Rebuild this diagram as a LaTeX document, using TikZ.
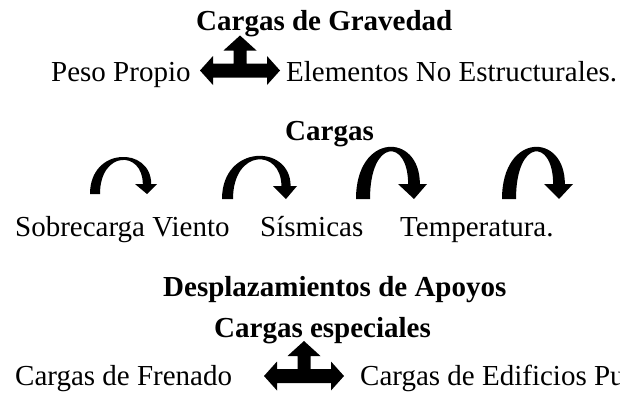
\documentclass[tikz,border=0pt]{standalone}
\usepackage{fontspec}
\setmainfont{Liberation Serif}
\newcommand\curvarr[9]{%
 \pgfmathsetmacro\co{(#4-0.125*(#3+#5))/0.75}%
 \pgfmathsetmacro\ci{(#4+#9-0.125*(#3+#5))/0.75}%
 \pgfmathsetmacro\sw{0.42*#2}%
 \fill (#1,#3) .. controls (#1,\co) and ({#8+\sw},\co) .. ({#8+\sw},#5) -- (#7,#5) -- (#8,#3) -- (#6,#5) -- ({#8-\sw},#5) .. controls ({#8-\sw},\ci) and ({#1+#2},\ci) .. ({#1+#2},#3) -- cycle;}
\newcommand\tarr[2]{%
 \fill ({#1-40},#2) -- ({#1-27},{#2-14.5}) -- ({#1-27},{#2-7}) -- ({#1-6.5},{#2-7}) -- ({#1-6.5},{#2-20}) -- ({#1-16.5},{#2-20}) -- (#1,{#2-35}) -- ({#1+16.5},{#2-20}) -- ({#1+6.5},{#2-20}) -- ({#1+6.5},{#2-7}) -- ({#1+27},{#2-7}) -- ({#1+27},{#2-14.5}) -- ({#1+40},#2) -- ({#1+27},{#2+14.5}) -- ({#1+27},{#2+7}) -- ({#1-27},{#2+7}) -- ({#1-27},{#2+14.5}) -- cycle;}
\begin{document}
\begin{tikzpicture}[x=1pt,y=-1pt,
  txt/.style={anchor=base west,inner sep=0pt,font=\fontsize{29}{34}\selectfont},
  hd/.style={txt,font=\fontsize{29}{34}\selectfont\bfseries}]
\useasboundingbox (0,0) rectangle (620,394);
\clip (0,0) rectangle (620,394);
\node[hd] (t1) at (196,30) {Cargas de Gravedad};
\node[txt] (peso) at (51,81) {Peso Propio};
\node[txt] (elem) at (286,81) {Elementos No Estructurales.};
\tarr{240}{70.5}
\node[hd] (t2) at (285,140) {Cargas};
\curvarr{90}{10}{194}{157}{184}{135}{157}{147}{3}
\curvarr{222}{11}{199}{156}{186}{273}{297}{286}{3.5}
\curvarr{356}{14}{199}{147}{184}{398}{427}{414}{4.5}
\curvarr{502}{14}{199}{147}{184}{544}{573}{559}{4.5}
\node[txt] (sob) at (15,236) {Sobrecarga Viento};
\node[txt] (sis) at (260,236) {Sísmicas};
\node[txt] (tem) at (400,236) {Temperatura.};
\node[hd] (t3) at (163,296) {Desplazamientos de Apoyos};
\node[hd] (t4) at (214,337) {Cargas especiales};
\node[txt] (fren) at (15,385) {Cargas de Frenado};
\tarr{304}{376}
\node[txt] (edif) at (360,385) {Cargas de Edificios Pu};
\end{tikzpicture}
\end{document}
